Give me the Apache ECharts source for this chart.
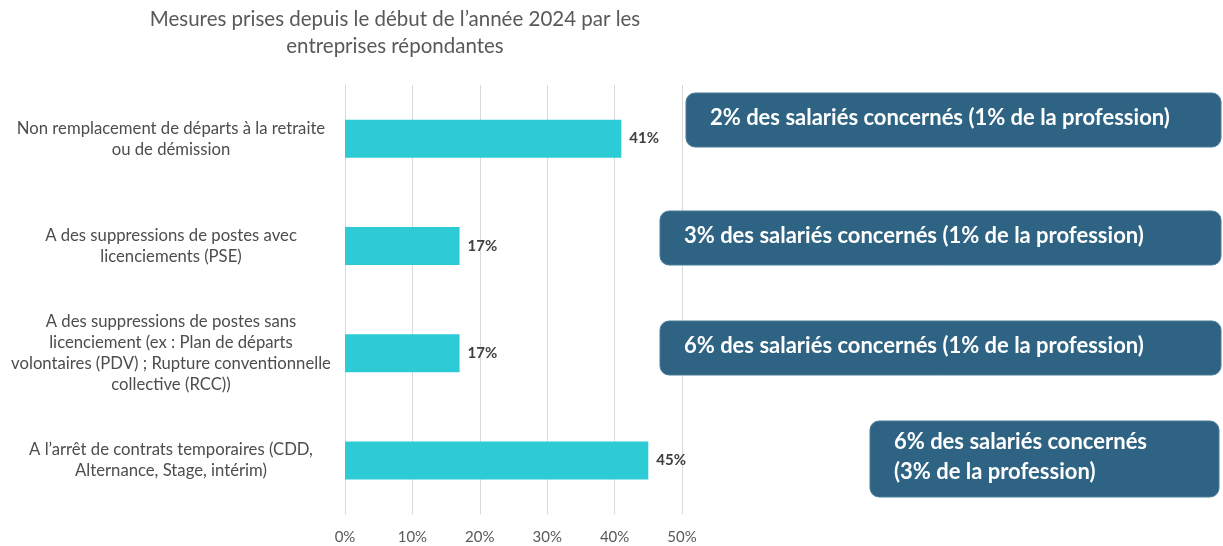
<!DOCTYPE html>
<html><head><meta charset="utf-8">
<script src="https://cdn.jsdelivr.net/npm/echarts@6/dist/echarts.min.js"></script>
<style>html,body{margin:0;padding:0;background:#fff}#c{width:1223px;height:546px}</style>
</head><body><div id="c"></div>
<script>
const categories = [
  "Non remplacement de départs à la retraite\nou de démission",
  "A des suppressions de postes avec\nlicenciements (PSE)",
  "A des suppressions de postes sans\nlicenciement (ex : Plan de départs\nvolontaires (PDV) ; Rupture conventionnelle\ncollective (RCC))",
  "A l’arrêt de contrats temporaires (CDD,\nAlternance, Stage, intérim)"
];
const values = [41, 17, 17, 45];
const xTicks = [0, 10, 20, 30, 40, 50];
const notes = [
  "2% des salariés concernés (1% de la profession)",
  "3% des salariés concernés (1% de la profession)",
  "6% des salariés concernés (1% de la profession)",
  "6% des salariés concernés\n(3% de la profession)"
];
const FONT = "Lato, 'Open Sans', sans-serif";
const boxes = [
  {x: 686, y: 93, w: 535, h: 54},
  {x: 660, y: 211, w: 561, h: 54},
  {x: 660, y: 321, w: 561, h: 54},
  {x: 870, y: 421, w: 349, h: 76}
];
const chart = echarts.init(document.getElementById('c'));
chart.setOption({
  animation: false,
  title: {
    text: "Mesures prises depuis le début de l’année 2024 par les\nentreprises répondantes",
    left: 390, top: 1, textAlign: 'center',
    textStyle: {fontFamily: FONT, fontSize: 20.5, fontWeight: 'normal', color: '#595959', lineHeight: 27}
  },
  grid: {left: 345, right: 541, top: 85, bottom: 32, containLabel: false},
  xAxis: {
    type: 'value', min: xTicks[0], max: xTicks[xTicks.length - 1], interval: 10,
    axisLine: {show: false}, axisTick: {show: false},
    splitLine: {lineStyle: {color: '#d9d9d9', width: 1}},
    axisLabel: {formatter: v => v + '%', color: '#595959', fontFamily: FONT, fontSize: 15, margin: 16}
  },
  yAxis: {
    type: 'category', data: categories, inverse: true,
    axisLine: {show: true, lineStyle: {color: '#d9d9d9'}}, axisTick: {show: false},
    axisLabel: {color: '#4d4d4d', fontFamily: FONT, fontSize: 16.7, lineHeight: 21, align: 'center', margin: 174}
  },
  series: [{
    type: 'bar', data: values, barWidth: 38,
    itemStyle: {color: '#2ccbd5'},
    label: {show: true, position: 'right', distance: 8, formatter: p => p.value + '%',
      color: '#404040', fontFamily: FONT, fontSize: 15, fontWeight: 'bold'}
  }],
  graphic: boxes.map((b, i) => ({
    type: 'group', x: b.x, y: b.y,
    children: [
      {type: 'rect', z: 100, shape: {x: 0, y: 0, width: b.w, height: b.h, r: 9},
        style: {fill: '#2e6384', stroke: '#4a7c99', lineWidth: 1}},
      {type: 'text', z: 101, x: 24, y: b.h / 2 - 2,
        style: {text: notes[i], fill: '#ffffff', fontFamily: FONT, fontSize: 22, fontWeight: 'bold',
          lineHeight: 30, verticalAlign: 'middle', align: 'left'}}
    ]
  }))
});
</script></body></html>
